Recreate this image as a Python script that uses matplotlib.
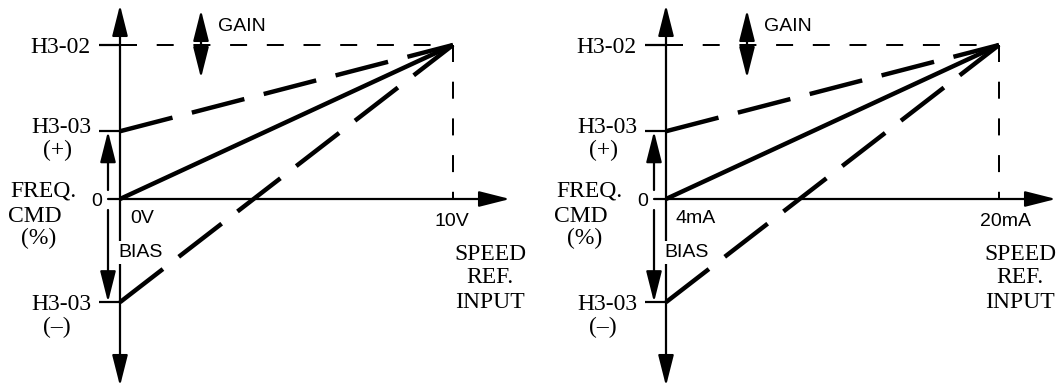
import matplotlib.pyplot as plt

# frequency command levels (%)
gain_pct = 100                      # H3-02
bias_pct = [0, 44, -67]             # no bias, H3-03 (+), H3-03 (-)
line_kind = ['solid', 'dash', 'dash']

# speed reference input of each panel
volt_in = [0, 10]
volt_names = ['0V', '10V']
amp_in = [4, 20]
amp_names = ['4mA', '20mA']

W, H = 1062, 387
SERIF = 'Liberation Serif'
SANS = 'Liberation Sans'

fig = plt.figure(figsize=(W / 100, H / 100), dpi=100)


def arrow(ax, start, tip, lw=1.6):
    ax.annotate('', xy=tip, xytext=start,
                arrowprops=dict(arrowstyle='-|>,head_length=19,head_width=4.8',
                                mutation_scale=1, lw=lw, color='k',
                                shrinkA=0, shrinkB=0))


def panel(left, right, ox, x_in, x_names, speed_dx):
    ax = fig.add_axes([left / W, 0, (right - left) / W, 1])
    ax.axis('off')
    x0, x1 = x_in
    sx = 333 / (x1 - x0)          # pixels per input unit
    sy = 154 / gain_pct           # pixels per percent
    ax.set_xlim(x0 + (left - ox) / sx, x0 + (right - ox) / sx)
    ax.set_ylim(-(H - 199) / sy, 199 / sy)

    # pixel offsets from the origin -> data
    X = lambda dx: x0 + dx / sx
    Y = lambda dy: -dy / sy

    def t(x, dy, s, fam, size, ha, **kw):
        ax.text(x, Y(dy), s, family=fam, fontsize=size, ha=ha, va='baseline', **kw)

    # axes with arrows
    arrow(ax, (x0, 0), (x0, Y(-194)))
    arrow(ax, (x0, 0), (x0, Y(187)))
    arrow(ax, (X(-12), 0), (X(390), 0))

    # level ticks
    for lv in [gain_pct, bias_pct[1], bias_pct[2]]:
        ax.plot([X(-21), x0], [lv, lv], color='k', lw=1.6, solid_capstyle='butt')

    # gain guide lines
    thin = dict(color='k', lw=1.44, linestyle=(0, (8.5, 9.85)))
    ax.plot([x0, x1], [gain_pct, gain_pct], **thin)
    ax.plot([x1, x1], [gain_pct, 0], **thin)

    # characteristic lines
    for b, kind in zip(bias_pct, line_kind):
        ls = '-' if kind == 'solid' else (0, (12.2, 4.5))
        ax.plot(x_in, [b, gain_pct], color='k', lw=3.2, linestyle=ls,
                solid_capstyle='butt')

    # gain arrows
    gx = X(81)
    arrow(ax, (gx, Y(-149)), (gx, Y(-189)))
    arrow(ax, (gx, Y(-149)), (gx, Y(-121)))
    t(X(98), -168, 'GAIN', SANS, 14, 'left')

    # bias arrows
    bx = X(-12)
    arrow(ax, (bx, Y(-9)), (bx, bias_pct[1]))
    arrow(ax, (bx, Y(11)), (bx, bias_pct[2]))

    # level labels
    t(X(-30), -146, 'H3-02', SERIF, 17, 'right')
    t(X(-29), -66, 'H3-03', SERIF, 17, 'right')
    t(X(-63), -43, '(+)', SERIF, 17, 'center')
    t(X(-29), 111, 'H3-03', SERIF, 17, 'right')
    t(X(-63), 134, '(–)', SERIF, 17, 'center')
    t(X(-77), -2, 'FREQ.', SERIF, 17, 'center')
    t(X(-85), 23, 'CMD', SERIF, 17, 'center')
    t(X(-81), 45, '(%)', SERIF, 17, 'center')
    t(X(-23), 7, '0', SANS, 14, 'center')
    t(X(-2), 58, 'BIAS', SANS, 14, 'left', zorder=5,
      bbox=dict(fc='white', ec='none', pad=2))

    # input labels
    t(X(10), 24, x_names[0], SANS, 14, 'left')
    t(x1 - 19 / sx, 27, x_names[1], SANS, 14, 'left')
    for dy, s in zip([61, 84, 109], ['SPEED', 'REF.', 'INPUT']):
        t(x1 + speed_dx / sx, dy, s, SERIF, 17, 'center')


panel(0, 546, 120, volt_in, volt_names, 37)
panel(546, W, 666, amp_in, amp_names, 21)

fig.savefig('out.png', dpi=100)
